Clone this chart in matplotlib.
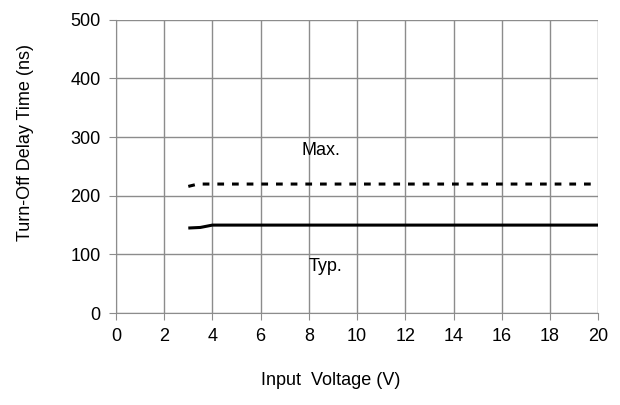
import matplotlib
matplotlib.use("Agg")
import matplotlib.pyplot as plt

plt.rcParams['font.family'] = ['Liberation Sans', 'DejaVu Sans']

# data
typ_v = [3.0, 3.5, 4.0, 20.0]
typ_ns = [145, 146, 150, 150]
max_v = [3.0, 3.4, 20.0]
max_ns = [216, 220, 220]

xticks = list(range(0, 21, 2))
yticks = list(range(0, 501, 100))

fig = plt.figure(figsize=(6.2, 4.05), dpi=100)
ax = fig.add_axes([0.187, 0.227, 0.778, 0.724])

ax.plot(typ_v, typ_ns, color='black', lw=2.2, solid_capstyle='butt')
ax.plot(max_v, max_ns, color='black', lw=2.2, linestyle=(0, (2.2, 2.6)))

ax.set_xlim(0, 20)
ax.set_ylim(0, 500)
ax.set_xticks(xticks)
ax.set_yticks(yticks)
ax.grid(True, color='#8c8c8c', lw=1)
ax.set_axisbelow(True)
for s in ['top', 'right']:
    ax.spines[s].set_visible(False)
for s in ['left', 'bottom']:
    ax.spines[s].set_color('#8c8c8c')
ax.tick_params(colors='black', labelsize=13, length=5, color='#8c8c8c', pad=6)

ax.text(8.5, 278, 'Max.', fontsize=13, ha='center', va='center')
ax.text(8.7, 80, 'Typ.', fontsize=13, ha='center', va='center')

ax.set_xlabel('Input  Voltage (V)', fontsize=13)
ax.xaxis.set_label_coords(0.445, -0.2)
ax.set_ylabel('Turn-Off Delay Time (ns)', fontsize=13)
ax.yaxis.set_label_coords(-0.17, 0.58)

fig.savefig('out.png', dpi=100)
